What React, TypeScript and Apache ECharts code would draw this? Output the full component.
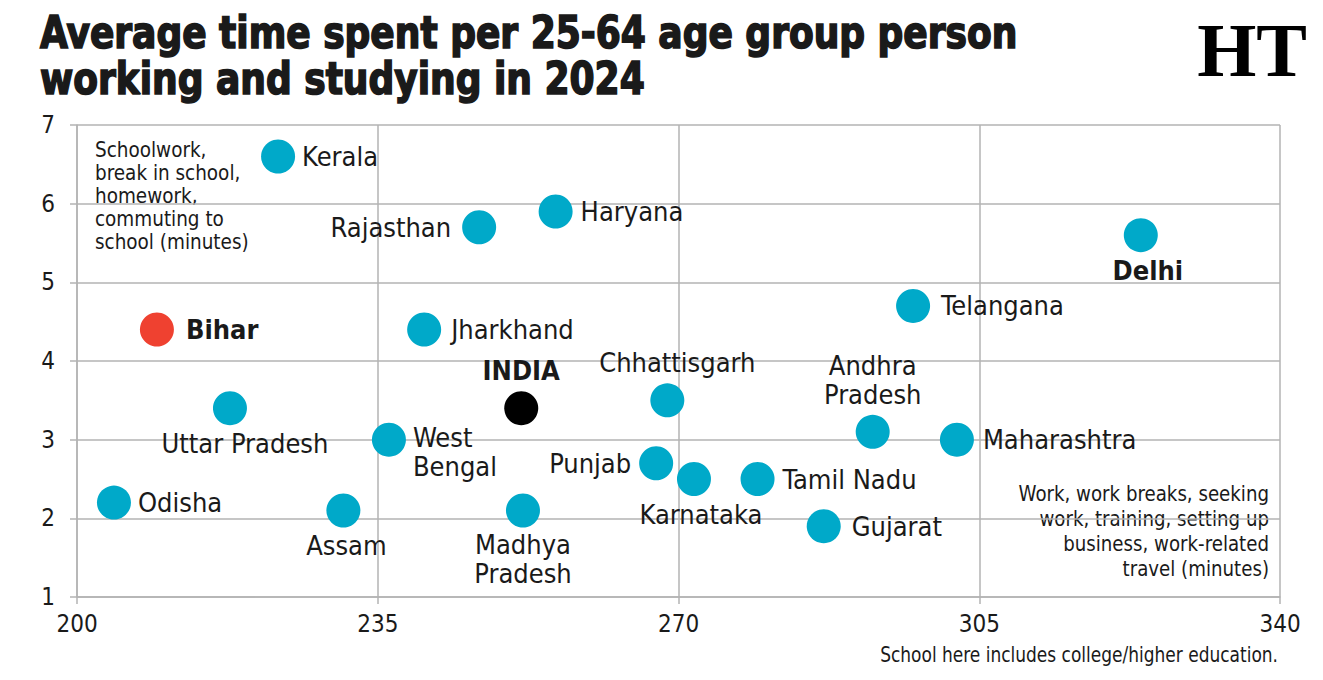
import React, { useEffect, useRef } from "react";
import * as echarts from "echarts";

const FONT = "'DejaVu Sans Condensed', 'Liberation Sans Narrow', Roboto, sans-serif";

const states = ["Kerala", "Rajasthan", "Haryana", "Delhi", "Telangana", "Bihar", "Jharkhand", "INDIA", "Chhattisgarh", "Uttar Pradesh", "Andhra Pradesh", "Maharashtra", "West Bengal", "Punjab", "Karnataka", "Tamil Nadu", "Odisha", "Assam", "Madhya Pradesh", "Gujarat"];
const workMinutes = [223.4, 246.8, 255.7, 323.8, 297.3, 209.3, 240.4, 251.7, 268.7, 217.8, 292.6, 302.4, 236.3, 267.4, 271.8, 279.2, 204.3, 231.0, 251.9, 286.9];
const schoolMinutes = [6.6, 5.7, 5.9, 5.6, 4.7, 4.4, 4.4, 3.4, 3.5, 3.4, 3.1, 3.0, 3.0, 2.7, 2.5, 2.5, 2.2, 2.1, 2.1, 1.9];
const xTicks = [200, 235, 270, 305, 340];
const yTicks = [1, 2, 3, 4, 5, 6, 7];

const labelText: Record<string, string> = {
  "Andhra Pradesh": "Andhra\nPradesh",
  "West Bengal": "West\nBengal",
  "Madhya Pradesh": "Madhya\nPradesh",
};
const labelPos: Record<string, any> = {
  Kerala: { position: "right", distance: 7 },
  Rajasthan: { position: "left", distance: 11 },
  Haryana: { position: "right", distance: 8 },
  Delhi: { position: "bottom", fontWeight: "bold", offset: [7, 0], distance: 4 },
  Telangana: { position: "right", distance: 11 },
  Bihar: { position: "right", fontWeight: "bold", distance: 12 },
  Jharkhand: { position: "right", distance: 10 },
  INDIA: { position: "top", fontWeight: "bold", distance: 6 },
  Chhattisgarh: { position: "top", offset: [10, 0], distance: 6 },
  "Uttar Pradesh": { position: "bottom", offset: [15, 0], distance: 4 },
  "Andhra Pradesh": { position: "top", align: "center", distance: 6 },
  Maharashtra: { position: "right", distance: 9 },
  "West Bengal": { position: "right", offset: [0, 12], align: "left", distance: 7 },
  Punjab: { position: "left", distance: 8 },
  Karnataka: { position: "bottom", offset: [7, 0], distance: 4 },
  "Tamil Nadu": { position: "right", distance: 8 },
  Odisha: { position: "right", distance: 7 },
  Assam: { position: "bottom", offset: [3, 0], distance: 4 },
  "Madhya Pradesh": { position: "bottom", align: "center", distance: 3 },
  Gujarat: { position: "right", distance: 11 },
};
const colorOf = (name: string) => (name === "Bihar" ? "#ef4130" : name === "INDIA" ? "#000000" : "#00a9c9");

export default function App() {
  const ref = useRef<HTMLDivElement>(null);
  useEffect(() => {
    const chart = echarts.init(ref.current!, null, { renderer: "svg" });
    const data = states.map((name, i) => ({
      name,
      value: [workMinutes[i], schoolMinutes[i]],
      itemStyle: { color: colorOf(name), opacity: 1 },
      label: {
        show: true,
        formatter: labelText[name] || name,
        fontSize: 27,
        lineHeight: 29,
        color: "#1a1a1a",
        fontFamily: FONT,
        ...labelPos[name],
      },
    }));
    const axisCommon = {
      type: "value",
      axisLine: { show: true, lineStyle: { color: "#b3b3b3", width: 1.5 } },
      axisTick: { show: true, length: 7, lineStyle: { color: "#b3b3b3", width: 1.5 } },
      splitLine: { show: true, lineStyle: { color: "#b3b3b3", width: 1.5 } },
    };
    chart.setOption({
      animation: false,
      backgroundColor: "#ffffff",
      grid: { left: 77, right: 43, top: 125, bottom: 83, containLabel: false },
      xAxis: {
        ...axisCommon,
        min: xTicks[0],
        max: xTicks[xTicks.length - 1],
        interval: 35,
        axisLabel: { fontSize: 24, color: "#1a1a1a", fontFamily: FONT, margin: 15 },
      },
      yAxis: {
        ...axisCommon,
        min: yTicks[0],
        max: yTicks[yTicks.length - 1],
        interval: 1,
        axisLabel: { fontSize: 24, color: "#1a1a1a", fontFamily: FONT, margin: 22 },
      },
      graphic: [
        {
          type: "text",
          x: 40,
          y: 10,
          scaleX: 0.91,
          style: {
            text: "Average time spent per 25-64 age group person\nworking and studying in 2024",
            font: `bold 44px ${FONT}`,
            lineHeight: 46,
            fill: "#1a1a1a",
            stroke: "#1a1a1a",
            lineWidth: 1.6,
          },
        },
        {
          type: "text",
          x: 1307,
          y: 12,
          style: { text: "HT", align: "right", font: `bold 76px 'Liberation Serif', 'DejaVu Serif', serif`, fill: "#000" },
        },
        {
          type: "text",
          x: 95,
          y: 138,
          scaleX: 0.93,
          style: {
            text: "Schoolwork,\nbreak in school,\nhomework,\ncommuting to\nschool (minutes)",
            font: `22px ${FONT}`,
            lineHeight: 23,
            fill: "#1a1a1a",
          },
        },
        {
          type: "text",
          x: 1269,
          y: 481,
          scaleX: 0.92,
          style: {
            text: "Work, work breaks, seeking\nwork, training, setting up\nbusiness, work-related\ntravel (minutes)",
            font: `22px ${FONT}`,
            lineHeight: 25,
            align: "right",
            fill: "#1a1a1a",
          },
        },
        {
          type: "text",
          x: 1278,
          y: 643,
          scaleX: 0.86,
          style: {
            text: "School here includes college/higher education.",
            font: `22px ${FONT}`,
            align: "right",
            fill: "#1a1a1a",
          },
        },
      ],
      series: [
        {
          type: "scatter",
          symbolSize: 34,
          data,
        },
      ],
    });
    return () => chart.dispose();
  }, []);
  return <div ref={ref} style={{ width: 1323, height: 680, position: "absolute", left: 0, top: 0 }} />;
}
